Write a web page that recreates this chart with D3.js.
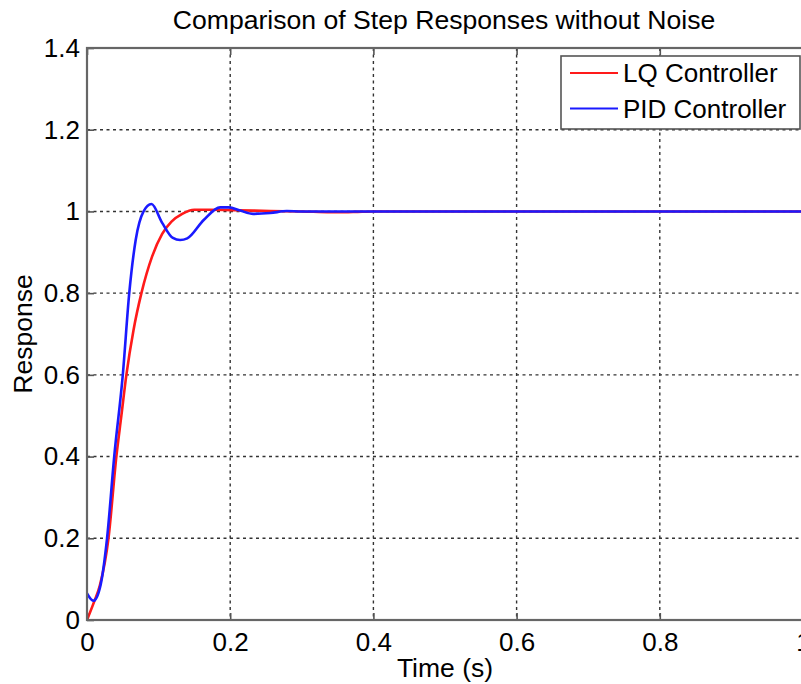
<!DOCTYPE html>
<html>
<head>
<meta charset="utf-8">
<script src="https://cdn.jsdelivr.net/npm/d3@7"></script>
<style>
  body { margin: 0; background: #fff; }
  svg text { font-family: "Liberation Sans", Arial, sans-serif; fill: #000; }
</style>
</head>
<body>
<svg id="chart" width="801" height="684"></svg>
<script>
// data
const xTicks = [0, 0.2, 0.4, 0.6, 0.8, 1]
const yTicks = [0, 0.2, 0.4, 0.6, 0.8, 1, 1.2, 1.4]

const lqT = [0, 0.010, 0.018, 0.030, 0.041, 0.048, 0.055, 0.065, 0.076, 0.091, 0.105, 0.118, 0.133, 0.150, 0.172, 0.210, 0.256, 0.300, 0.340, 0.360, 0.378, 0.400, 0.600, 0.800, 1.0]
const lqV = [0, 0.045, 0.085, 0.20, 0.40, 0.50, 0.60, 0.71, 0.80, 0.89, 0.945, 0.975, 0.994, 1.004, 1.004, 1.003, 1.001, 1.000, 0.998, 0.998, 0.999, 1.0, 1.0, 1.0, 1.0]

const pidT = [0, 0.009, 0.019, 0.028, 0.038, 0.050, 0.059, 0.068, 0.079, 0.090, 0.105, 0.120, 0.130, 0.140, 0.163, 0.186, 0.198, 0.214, 0.232, 0.256, 0.279, 0.300, 0.400, 0.600, 0.800, 1.0]
const pidV = [0.065, 0.047, 0.086, 0.20, 0.40, 0.60, 0.80, 0.93, 1.0, 1.018, 0.972, 0.935, 0.930, 0.934, 0.979, 1.010, 1.010, 1.002, 0.994, 0.996, 1.001, 1.0, 1.0, 1.0, 1.0, 1.0]

const series = [
    { name: 'LQ Controller', color: '#ff1a1a', t: lqT, v: lqV },
    { name: 'PID Controller', color: '#1a1aff', t: pidT, v: pidV }
]

const pLeft = 87, pTop = 48, pRight = 803, pBottom = 620

const svg = d3.select('#chart')

const x = d3.scaleLinear().domain([0, 1]).range([pLeft, pRight])
const y = d3.scaleLinear().domain([0, 1.4]).range([pBottom, pTop])

svg.append('rect')
    .attr('width', 801).attr('height', 684).attr('fill', '#fff')

// grid
const grid = svg.append('g')
    .attr('stroke', '#333')
    .attr('stroke-width', 1.4)
    .attr('stroke-dasharray', '3,3.5')

grid.selectAll('.gx')
    .data(xTicks.filter(d => d > 0 && d < 1))
    .enter().append('line')
    .attr('x1', d => x(d)).attr('x2', d => x(d))
    .attr('y1', pTop).attr('y2', pBottom)

grid.selectAll('.gy')
    .data(yTicks.filter(d => d > 0 && d < 1.4))
    .enter().append('line')
    .attr('x1', pLeft).attr('x2', pRight)
    .attr('y1', d => y(d)).attr('y2', d => y(d))

// curves
svg.append('clipPath').attr('id', 'clip')
    .append('rect')
    .attr('x', pLeft).attr('y', pTop)
    .attr('width', pRight - pLeft).attr('height', pBottom - pTop)

const line = d3.line()
    .x(d => x(d[0]))
    .y(d => y(d[1]))
    .curve(d3.curveMonotoneX)

svg.append('g').attr('clip-path', 'url(#clip)')
    .selectAll('path')
    .data(series)
    .enter().append('path')
    .attr('d', s => line(s.t.map((t, i) => [t, s.v[i]])))
    .attr('fill', 'none')
    .attr('stroke', s => s.color)
    .attr('stroke-width', 2.6)
    .attr('stroke-linejoin', 'round')

// axes
const fmt = d => d3.format('~g')(d)

const xAxis = svg.append('g')
    .attr('transform', `translate(0,${pBottom})`)
    .call(d3.axisBottom(x).tickValues(xTicks).tickFormat(fmt).tickSize(-7).tickPadding(13))

const xTop = svg.append('g')
    .attr('transform', `translate(0,${pTop})`)
    .call(d3.axisTop(x).tickValues(xTicks).tickFormat('').tickSize(-7))

const yAxis = svg.append('g')
    .attr('transform', `translate(${pLeft},0)`)
    .call(d3.axisLeft(y).tickValues(yTicks).tickFormat(fmt).tickSize(-7).tickPadding(7))

;[xAxis, xTop, yAxis].forEach(a => {
    a.select('.domain').remove()
    a.selectAll('line').attr('stroke', '#555').attr('stroke-width', 1.6)
    a.selectAll('text').attr('font-size', 26).attr('fill', '#000')
        .attr('font-family', '"Liberation Sans", Arial, sans-serif')
})

svg.append('rect')
    .attr('x', pLeft).attr('y', pTop)
    .attr('width', pRight - pLeft).attr('height', pBottom - pTop)
    .attr('fill', 'none')
    .attr('stroke', '#666')
    .attr('stroke-width', 2.2)

// labels
svg.append('text')
    .attr('x', (pLeft + pRight) / 2 - 1).attr('y', 29)
    .attr('text-anchor', 'middle')
    .attr('font-size', 26.6)
    .text('Comparison of Step Responses without Noise')

svg.append('text')
    .attr('x', (pLeft + pRight) / 2).attr('y', 677)
    .attr('text-anchor', 'middle')
    .attr('font-size', 26.5)
    .text('Time (s)')

svg.append('text')
    .attr('transform', `translate(32,${(pTop + pBottom) / 2}) rotate(-90)`)
    .attr('text-anchor', 'middle')
    .attr('font-size', 26.5)
    .text('Response')

// legend
const legend = svg.append('g')

legend.append('rect')
    .attr('x', 561).attr('y', 56)
    .attr('width', 239).attr('height', 73)
    .attr('fill', '#fff')
    .attr('stroke', '#555')
    .attr('stroke-width', 1.6)

const item = legend.selectAll('.item')
    .data(series)
    .enter().append('g')
    .attr('transform', (d, i) => `translate(0,${73 + i * 35.5})`)

item.append('line')
    .attr('x1', 570).attr('x2', 618)
    .attr('stroke', d => d.color)
    .attr('stroke-width', 2.2)

item.append('text')
    .attr('x', 623).attr('y', 9)
    .attr('font-size', 26)
    .text(d => d.name)
</script>
</body>
</html>
